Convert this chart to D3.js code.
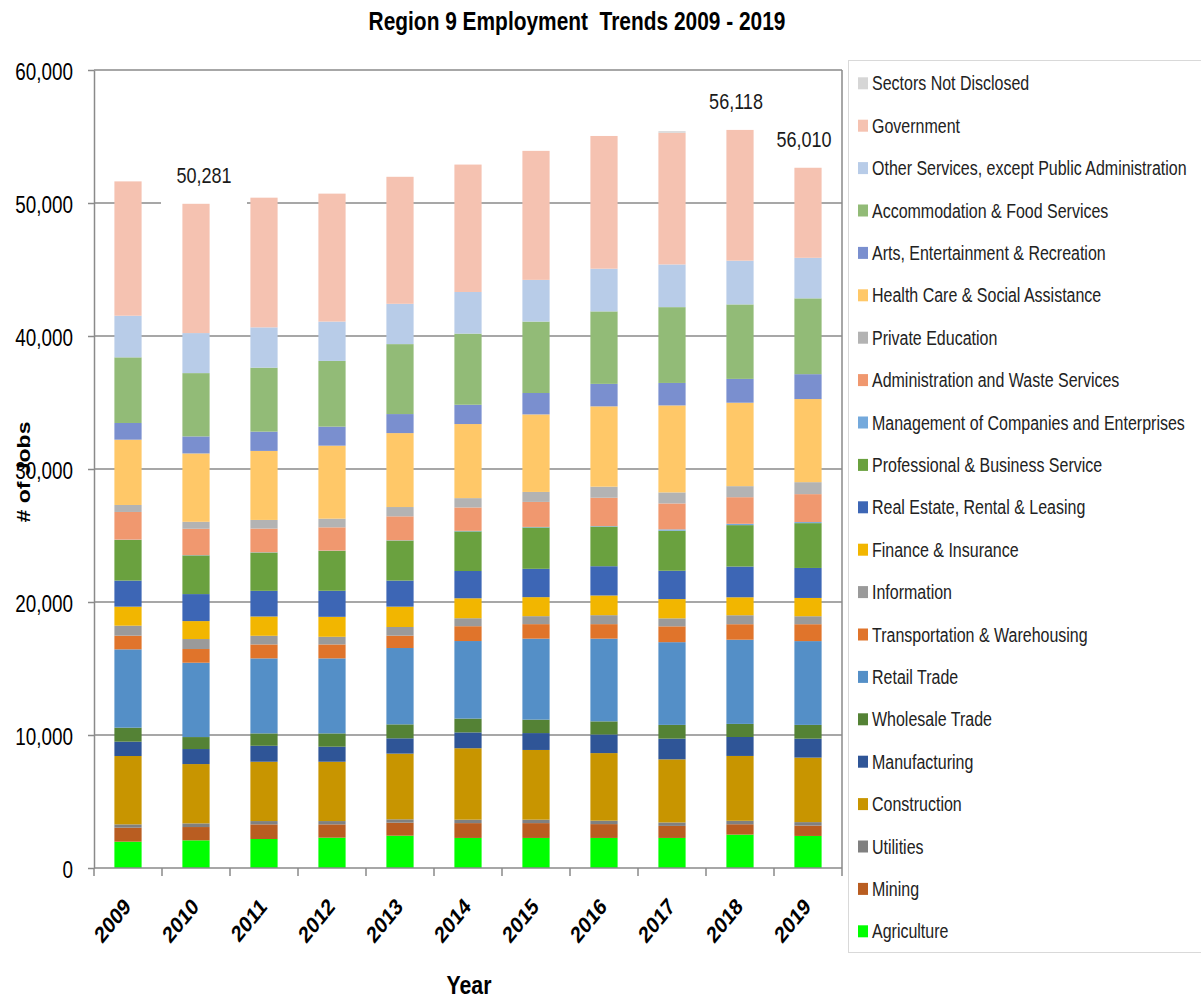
<!DOCTYPE html>
<html lang="en">
<head>
    <meta charset="UTF-8">
    <title>Region 9 Employment Trends 2009 - 2019</title>
    <script src="https://cdn.jsdelivr.net/npm/d3@7"></script>
    <style>
        body{ margin:0; background:#fff; }
        svg{ display:block; }
        text{ font-family:"Liberation Sans", Arial, sans-serif; fill:#000; }
    </style>
</head>
<body>
    <svg id="chart" width="1201" height="999"></svg>
    <script>
        // years on the x axis
        var years = ["2009","2010","2011","2012","2013","2014","2015","2016","2017","2018","2019"]

        // jobs per sector (stack order, bottom first)
        var agriculture    = [1980, 2080, 2180, 2280, 2430, 2260, 2260, 2260, 2260, 2510, 2410]
        var mining         = [1050, 1000, 1100, 1000,  980, 1115, 1115, 1040,  905,  780,  780]
        var utilities      = [ 250,  275,  250,  250,  250,  260,  260,  260,  260,  260,  260]
        var construction   = [5140, 4460, 4460, 4460, 4940, 5370, 5240, 5080, 4745, 4875, 4850]
        var manufacturing  = [1080, 1130, 1200, 1130, 1150, 1190, 1270, 1400, 1555, 1425, 1425]
        var wholesale      = [1050,  900,  930, 1000, 1050, 1040, 1010,  985, 1035,  985, 1035]
        var retail         = [5890, 5590, 5640, 5640, 5740, 5830, 6090, 6220, 6220, 6330, 6300]
        var transportation = [1030, 1030, 1050, 1050,  930, 1115, 1090, 1090, 1190, 1165, 1270]
        var information    = [ 750,  750,  650,  575,  650,  600,  600,  675,  600,  675,  600]
        var finance        = [1430, 1350, 1450, 1500, 1530, 1500, 1430, 1480, 1450, 1350, 1375]
        var realEstate     = [1960, 2030, 1930, 1960, 1960, 2050, 2130, 2200, 2130, 2310, 2255]
        var professional   = [3060, 2910, 2880, 3000, 3010, 2980, 3110, 2980, 3010, 3115, 3370]
        var management     = [  20,   20,   20,   20,   20,   40,   40,   40,  100,  100,   80]
        var administration = [2080, 1980, 1780, 1750, 1800, 1760, 1880, 2130, 1950, 2000, 2100]
        var privateEd      = [ 525,  525,  650,  650,  700,  700,  750,  830,  830,  830,  900]
        var healthCare     = [4910, 5140, 5190, 5490, 5560, 5570, 5830, 6040, 6540, 6275, 6250]
        var arts           = [1255, 1280, 1450, 1430, 1430, 1450, 1610, 1690, 1690, 1790, 1870]
        var accommodation  = [4935, 4760, 4810, 4940, 5260, 5350, 5370, 5450, 5700, 5600, 5700]
        var otherServices  = [3130, 3010, 3030, 2960, 3030, 3130, 3135, 3210, 3210, 3290, 3050]
        var government     = [10100, 9720, 9750, 9620, 9550, 9580, 9700, 9980, 9900, 9830, 6770]
        var notDisclosed   = [   0,    0,    0,    0,    0,    0,    0,    0,  120,    0,    0]

        var sectors = ["Agriculture","Mining","Utilities","Construction","Manufacturing","Wholesale Trade",
            "Retail Trade","Transportation & Warehousing","Information","Finance & Insurance",
            "Real Estate, Rental & Leasing","Professional & Business Service",
            "Management of Companies and Enterprises","Administration and Waste Services",
            "Private Education","Health Care & Social Assistance","Arts, Entertainment & Recreation",
            "Accommodation & Food Services","Other Services, except Public Administration",
            "Government","Sectors Not Disclosed"]
        var series = [agriculture, mining, utilities, construction, manufacturing, wholesale, retail,
            transportation, information, finance, realEstate, professional, management, administration,
            privateEd, healthCare, arts, accommodation, otherServices, government, notDisclosed]
        var colors = ["#00ff00","#b95d21","#808080","#c89500","#2f5597","#548235","#548fc7","#e0742b",
            "#9a9a9a","#f2b600","#3d66b5","#6aa13f","#74a9dc","#f0986f","#b3b3b3","#ffc868","#7a8fcf",
            "#92bb77","#b8cce8","#f5c2b1","#d6d6d6"]

        // the annotations typed over some bars
        var labelYears = ["2010","2018","2019"]
        var labelText  = ["50,281","56,118","56,010"]
        var labelFill  = [true, false, false]

        var yTicks = [0, 10000, 20000, 30000, 40000, 50000, 60000]

        var SQ = 0.82   // the picture is squeezed sideways, text too
        function sq(x, y, rot){
            return "translate(" + x + "," + y + ") scale(" + SQ + ",1)" + (rot ? " rotate(" + rot + ")" : "")
        }

        var svg = d3.select("#chart")
        var plotL = 94, plotR = 842, plotT = 70, plotB = 868

        var table = years.map(function(yr, i){
            var row = {year: yr}
            sectors.forEach(function(s, k){ row[s] = series[k][i] })
            return row
        })
        var stacked = d3.stack().keys(sectors)(table)

        var x = d3.scaleBand().domain(years).range([plotL, plotR]).paddingInner(0.6).paddingOuter(0.3)
        var y = d3.scaleLinear().domain([0, 60000]).range([plotB, plotT])
        var color = d3.scaleOrdinal().domain(sectors).range(colors)

        // gridlines
        svg.append("g").selectAll("line").data(yTicks.slice(1)).join("line")
            .attr("x1", plotL).attr("x2", plotR)
            .attr("y1", function(d){ return y(d) }).attr("y2", function(d){ return y(d) })
            .attr("stroke", "#8a8a8a").attr("stroke-width", 1.5)

        // white box behind a label where it crosses a gridline
        var totals = table.map(function(r){ return d3.sum(sectors, function(s){ return r[s] }) })
        labelYears.forEach(function(yr, i){
            if (!labelFill[i]) return
            var cx = x(yr) + x.bandwidth() / 2 + 8
            var ty = y(totals[years.indexOf(yr)]) - 20
            svg.append("rect").attr("x", cx - 43).attr("y", ty - 22).attr("width", 86).attr("height", 44)
                .attr("fill", "#fff")
        })

        // bars
        svg.append("g").selectAll("g").data(stacked).join("g")
            .attr("fill", function(d){ return color(d.key) })
            .selectAll("rect").data(function(d){ return d }).join("rect")
            .attr("x", function(d){ return x(d.data.year) })
            .attr("width", x.bandwidth())
            .attr("y", function(d){ return y(d[1]) })
            .attr("height", function(d){ return y(d[0]) - y(d[1]) })

        // y axis
        var yAxis = svg.append("g").attr("transform", "translate(" + plotL + ",0)")
            .call(d3.axisLeft(y).tickValues(yTicks).tickSize(6).tickSizeOuter(0).tickFormat(d3.format(",")))
        yAxis.select(".domain").attr("stroke", "#8a8a8a").attr("stroke-width", 1.5)
        yAxis.selectAll(".tick line").attr("stroke", "#8a8a8a").attr("stroke-width", 1.5)
        yAxis.selectAll(".tick text").attr("x", null).attr("dy", "0.36em")
            .attr("transform", sq(-21, 1)).attr("text-anchor", "end")
            .style("font-size", "23px").style("fill", "#000")

        // x axis: baseline, ticks between categories, rotated year labels
        svg.append("line").attr("x1", plotL).attr("x2", plotR).attr("y1", plotB).attr("y2", plotB)
            .attr("stroke", "#8a8a8a").attr("stroke-width", 1.5)
        svg.append("line").attr("x1", plotR).attr("x2", plotR).attr("y1", plotT).attr("y2", plotB)
            .attr("stroke", "#8a8a8a").attr("stroke-width", 1.5)
        svg.append("g").selectAll("line").data(d3.range(years.length + 1)).join("line")
            .attr("x1", function(i){ return plotL + i * x.step() })
            .attr("x2", function(i){ return plotL + i * x.step() })
            .attr("y1", plotB).attr("y2", plotB + 8)
            .attr("stroke", "#8a8a8a").attr("stroke-width", 1.5)
        svg.append("g").selectAll("text").data(years).join("text")
            .attr("transform", function(d){ return sq(x(d) + x.bandwidth() / 2 + 4, 908, -45) })
            .attr("text-anchor", "end")
            .style("font-size", "23px").style("font-weight", "bold")
            .text(function(d){ return d })

        // value labels
        svg.append("g").selectAll("text").data(labelYears).join("text")
            .attr("transform", function(d, i){
                return sq(x(d) + x.bandwidth() / 2 + (i == 0 ? 8 : -4), y(totals[years.indexOf(d)]) - 21)
            })
            .attr("text-anchor", "middle")
            .style("font-size", "22px").style("fill", "#1a1a1a")
            .text(function(d, i){ return labelText[i] })

        // titles
        svg.append("text").attr("transform", sq(577, 30)).attr("text-anchor", "middle")
            .style("font-size", "25.5px").style("font-weight", "bold").style("white-space", "pre")
            .text("Region 9 Employment  Trends 2009 - 2019")
        svg.append("text").attr("transform", sq(469, 994)).attr("text-anchor", "middle")
            .style("font-size", "26px").style("font-weight", "bold")
            .text("Year")
        svg.append("text").attr("transform", sq(30, 472, -90)).attr("text-anchor", "middle")
            .style("font-size", "23px").style("font-weight", "bold")
            .text("# of Jobs")

        // legend, top entry is the top of the stack
        svg.append("rect").attr("x", 848.5).attr("y", 60.5).attr("width", 400).attr("height", 892)
            .attr("fill", "#fff").attr("stroke", "#d9d9d9")
        var legend = svg.append("g").selectAll("g").data(sectors.slice().reverse()).join("g")
            .attr("transform", function(d, i){ return "translate(858," + (83.3 + i * 42.4) + ")" })
        legend.append("rect").attr("x", 0).attr("y", -6).attr("width", 10).attr("height", 12)
            .attr("fill", function(d){ return color(d) })
        legend.append("text").attr("transform", sq(14, 0)).attr("dy", "0.36em")
            .style("font-size", "19.5px").style("fill", "#222")
            .text(function(d){ return d })
    </script>
</body>
</html>
